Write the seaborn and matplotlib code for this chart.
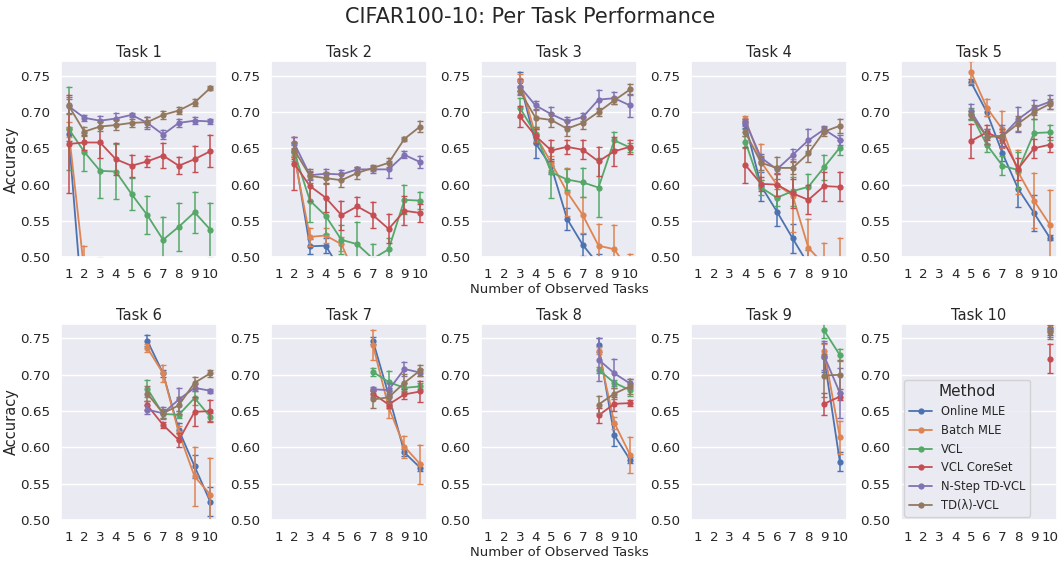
import matplotlib
matplotlib.use("Agg")
import numpy as np
import pandas as pd
import matplotlib.pyplot as plt
import seaborn as sns

# ── Data ───────────────────────────────────────────────────────
# Per method: one list per task, values for observed tasks t..10.
METHODS = ["Online MLE", "Batch MLE", "VCL", "VCL CoreSet", "N-Step TD-VCL", "TD(λ)-VCL"]
N_TASKS = 10

ONLINE_MEAN = [
    [0.670, 0.400, 0.330, 0.300, 0.280, 0.250, 0.240, 0.220, 0.200, 0.190],
    [0.645, 0.515, 0.516, 0.480, 0.450, 0.420, 0.400, 0.380, 0.370],
    [0.742, 0.657, 0.625, 0.553, 0.517, 0.490, 0.460, 0.440],
    [0.683, 0.598, 0.563, 0.526, 0.490, 0.470, 0.450],
    [0.741, 0.700, 0.643, 0.594, 0.561, 0.527],
    [0.747, 0.702, 0.624, 0.574, 0.525],
    [0.747, 0.672, 0.593, 0.572],
    [0.741, 0.617, 0.583],
    [0.724, 0.580],
    [0.765],
]
ONLINE_ERR = [
    [0.010, 0.020, 0.020, 0.020, 0.020, 0.020, 0.020, 0.020, 0.020, 0.020],
    [0.010, 0.010, 0.010, 0.010, 0.010, 0.010, 0.010, 0.010, 0.010],
    [0.013, 0.020, 0.010, 0.015, 0.015, 0.015, 0.015, 0.015],
    [0.005, 0.020, 0.020, 0.020, 0.020, 0.020, 0.020],
    [0.004, 0.005, 0.010, 0.025, 0.025, 0.003],
    [0.008, 0.005, 0.010, 0.016, 0.020],
    [0.005, 0.010, 0.005, 0.005],
    [0.010, 0.015, 0.004],
    [0.020, 0.013],
    [0.010],
]

BATCH_MEAN = [
    [0.676, 0.480, 0.470, 0.400, 0.380, 0.360, 0.340, 0.320, 0.300, 0.290],
    [0.640, 0.528, 0.530, 0.518, 0.470, 0.450, 0.430, 0.410, 0.400],
    [0.744, 0.668, 0.630, 0.590, 0.558, 0.516, 0.511, 0.480],
    [0.690, 0.631, 0.600, 0.585, 0.513, 0.490, 0.490],
    [0.755, 0.706, 0.676, 0.617, 0.578, 0.545],
    [0.737, 0.702, 0.620, 0.560, 0.535],
    [0.741, 0.655, 0.601, 0.577],
    [0.733, 0.634, 0.590],
    [0.733, 0.614],
    [0.770],
]
BATCH_ERR = [
    [0.010, 0.035, 0.030, 0.020, 0.020, 0.020, 0.020, 0.020, 0.020, 0.020],
    [0.010, 0.012, 0.010, 0.010, 0.010, 0.010, 0.010, 0.010, 0.010],
    [0.008, 0.010, 0.010, 0.033, 0.025, 0.030, 0.033, 0.025],
    [0.004, 0.025, 0.015, 0.050, 0.040, 0.030, 0.037],
    [0.015, 0.012, 0.025, 0.030, 0.038, 0.047],
    [0.005, 0.012, 0.010, 0.040, 0.050],
    [0.020, 0.014, 0.015, 0.027],
    [0.005, 0.008, 0.025],
    [0.010, 0.023],
    [0.010],
]

VCL_MEAN = [
    [0.677, 0.645, 0.619, 0.618, 0.587, 0.558, 0.524, 0.542, 0.562, 0.538],
    [0.645, 0.578, 0.557, 0.524, 0.518, 0.498, 0.511, 0.579, 0.578],
    [0.706, 0.670, 0.617, 0.607, 0.603, 0.596, 0.661, 0.651],
    [0.659, 0.596, 0.582, 0.591, 0.597, 0.624, 0.651],
    [0.697, 0.655, 0.626, 0.620, 0.671, 0.672],
    [0.681, 0.646, 0.645, 0.668, 0.642],
    [0.704, 0.690, 0.682, 0.684],
    [0.707, 0.689, 0.679],
    [0.761, 0.727],
    [0.775],
]
VCL_ERR = [
    [0.057, 0.026, 0.038, 0.038, 0.022, 0.026, 0.032, 0.033, 0.028, 0.037],
    [0.012, 0.030, 0.025, 0.020, 0.030, 0.020, 0.015, 0.020, 0.012],
    [0.013, 0.010, 0.035, 0.015, 0.020, 0.040, 0.012, 0.006],
    [0.008, 0.010, 0.012, 0.020, 0.017, 0.017, 0.010],
    [0.008, 0.010, 0.013, 0.025, 0.020, 0.010],
    [0.012, 0.005, 0.005, 0.010, 0.006],
    [0.006, 0.015, 0.006, 0.004],
    [0.004, 0.004, 0.008],
    [0.010, 0.008],
    [0.010],
]

CORESET_MEAN = [
    [0.656, 0.658, 0.658, 0.635, 0.626, 0.632, 0.640, 0.626, 0.635, 0.646],
    [0.629, 0.598, 0.582, 0.558, 0.570, 0.558, 0.539, 0.564, 0.561],
    [0.694, 0.667, 0.647, 0.652, 0.648, 0.632, 0.646, 0.652],
    [0.627, 0.601, 0.600, 0.588, 0.579, 0.598, 0.597],
    [0.660, 0.672, 0.662, 0.622, 0.650, 0.655],
    [0.658, 0.631, 0.610, 0.649, 0.650],
    [0.674, 0.659, 0.673, 0.677],
    [0.644, 0.660, 0.661],
    [0.660, 0.670],
    [0.722],
]
CORESET_ERR = [
    [0.067, 0.010, 0.022, 0.022, 0.015, 0.008, 0.017, 0.012, 0.018, 0.022],
    [0.036, 0.020, 0.020, 0.020, 0.013, 0.018, 0.020, 0.020, 0.013],
    [0.014, 0.010, 0.015, 0.010, 0.013, 0.020, 0.020, 0.010],
    [0.025, 0.010, 0.015, 0.020, 0.020, 0.020, 0.020],
    [0.024, 0.010, 0.010, 0.015, 0.013, 0.010],
    [0.006, 0.004, 0.010, 0.020, 0.015],
    [0.005, 0.005, 0.007, 0.014],
    [0.010, 0.010, 0.004],
    [0.015, 0.005],
    [0.020],
]

NSTEP_MEAN = [
    [0.708, 0.692, 0.688, 0.691, 0.696, 0.685, 0.669, 0.685, 0.688, 0.687],
    [0.657, 0.613, 0.615, 0.614, 0.621, 0.621, 0.621, 0.641, 0.631],
    [0.735, 0.709, 0.697, 0.687, 0.693, 0.717, 0.719, 0.709],
    [0.686, 0.637, 0.621, 0.641, 0.661, 0.676, 0.662],
    [0.701, 0.666, 0.667, 0.690, 0.706, 0.714],
    [0.652, 0.647, 0.666, 0.682, 0.678],
    [0.680, 0.679, 0.708, 0.703],
    [0.721, 0.702, 0.688],
    [0.726, 0.675],
    [0.762],
]
NSTEP_ERR = [
    [0.010, 0.004, 0.007, 0.007, 0.003, 0.008, 0.006, 0.006, 0.005, 0.004],
    [0.008, 0.006, 0.007, 0.006, 0.003, 0.005, 0.012, 0.005, 0.008],
    [0.010, 0.006, 0.010, 0.006, 0.006, 0.013, 0.008, 0.016],
    [0.005, 0.005, 0.005, 0.008, 0.015, 0.005, 0.007],
    [0.010, 0.010, 0.015, 0.017, 0.010, 0.010],
    [0.006, 0.008, 0.016, 0.005, 0.003],
    [0.003, 0.010, 0.009, 0.005],
    [0.030, 0.020, 0.006],
    [0.020, 0.035],
    [0.010],
]

TDL_MEAN = [
    [0.709, 0.673, 0.680, 0.682, 0.685, 0.686, 0.696, 0.702, 0.713, 0.733],
    [0.648, 0.612, 0.609, 0.606, 0.616, 0.623, 0.630, 0.663, 0.680],
    [0.729, 0.692, 0.689, 0.677, 0.685, 0.700, 0.716, 0.731],
    [0.672, 0.630, 0.623, 0.623, 0.643, 0.673, 0.681],
    [0.696, 0.666, 0.667, 0.684, 0.700, 0.711],
    [0.674, 0.647, 0.658, 0.689, 0.702],
    [0.666, 0.669, 0.689, 0.706],
    [0.659, 0.674, 0.684],
    [0.699, 0.700],
    [0.759],
]
TDL_ERR = [
    [0.012, 0.006, 0.006, 0.007, 0.005, 0.007, 0.005, 0.005, 0.005, 0.003],
    [0.010, 0.010, 0.008, 0.009, 0.008, 0.004, 0.006, 0.003, 0.007],
    [0.005, 0.012, 0.010, 0.010, 0.008, 0.006, 0.005, 0.008],
    [0.005, 0.010, 0.015, 0.008, 0.012, 0.006, 0.010],
    [0.005, 0.010, 0.010, 0.010, 0.010, 0.007],
    [0.010, 0.006, 0.012, 0.008, 0.005],
    [0.012, 0.008, 0.012, 0.008],
    [0.012, 0.008, 0.010],
    [0.030, 0.020],
    [0.010],
]

ALL_MEANS = [ONLINE_MEAN, BATCH_MEAN, VCL_MEAN, CORESET_MEAN, NSTEP_MEAN, TDL_MEAN]
ALL_ERRS = [ONLINE_ERR, BATCH_ERR, VCL_ERR, CORESET_ERR, NSTEP_ERR, TDL_ERR]


def build_frame():
    # two rows per point (mean -/+ err) so seaborn's min/max interval gives the bar
    rows = []
    for method, means, errs in zip(METHODS, ALL_MEANS, ALL_ERRS):
        for task, (mu, er) in enumerate(zip(means, errs), start=1):
            for k, (v, e) in enumerate(zip(mu, er)):
                n_obs = task + k
                rows.append((method, task, n_obs, v - e))
                rows.append((method, task, n_obs, v + e))
    return pd.DataFrame(rows, columns=["Method", "Task", "Observed", "Accuracy"])


df = build_frame()

sns.set_theme(style="darkgrid", palette="deep")
fig, axes = plt.subplots(2, 5, figsize=(10.6, 5.61), dpi=100)
fig.subplots_adjust(left=0.058, right=0.997, top=0.891, bottom=0.073,
                    wspace=0.346, hspace=0.34)
fig.suptitle("CIFAR100-10: Per Task Performance", fontsize=15, y=0.988)

for task, ax in enumerate(axes.flat, start=1):
    sub = df[df["Task"] == task]
    sns.lineplot(data=sub, x="Observed", y="Accuracy", hue="Method",
                 hue_order=METHODS, errorbar=lambda v: (v.min(), v.max()),
                 err_style="bars", marker="o", markersize=4.5, markeredgewidth=0,
                 linewidth=1.3, err_kws={"capsize": 2, "elinewidth": 1.1},
                 legend=(task == N_TASKS), ax=ax)
    ax.set_title(f"Task {task}", fontsize=10.5, pad=3)
    ax.set_xlim(0.55, 10.45)
    ax.set_ylim(0.5, 0.77)
    ax.set_xticks(range(1, N_TASKS + 1))
    ax.set_yticks([0.50, 0.55, 0.60, 0.65, 0.70, 0.75])
    ax.set_yticklabels([f"{t:.2f}" for t in ax.get_yticks()])
    ax.tick_params(labelsize=9.7, pad=2)
    ax.grid(axis="x", visible=False)
    ax.set_xlabel("Number of Observed Tasks" if task in (3, 8) else "",
                  fontsize=9.5, labelpad=1)
    ax.set_ylabel("Accuracy" if task in (1, 6) else "", fontsize=10.5, labelpad=1)

leg_ax = axes.flat[-1]
sns.move_legend(leg_ax, "lower left", title="Method", fontsize=8.3,
                title_fontsize=11, borderaxespad=0.3)

plt.savefig("out.png", dpi=100)
plt.close()
